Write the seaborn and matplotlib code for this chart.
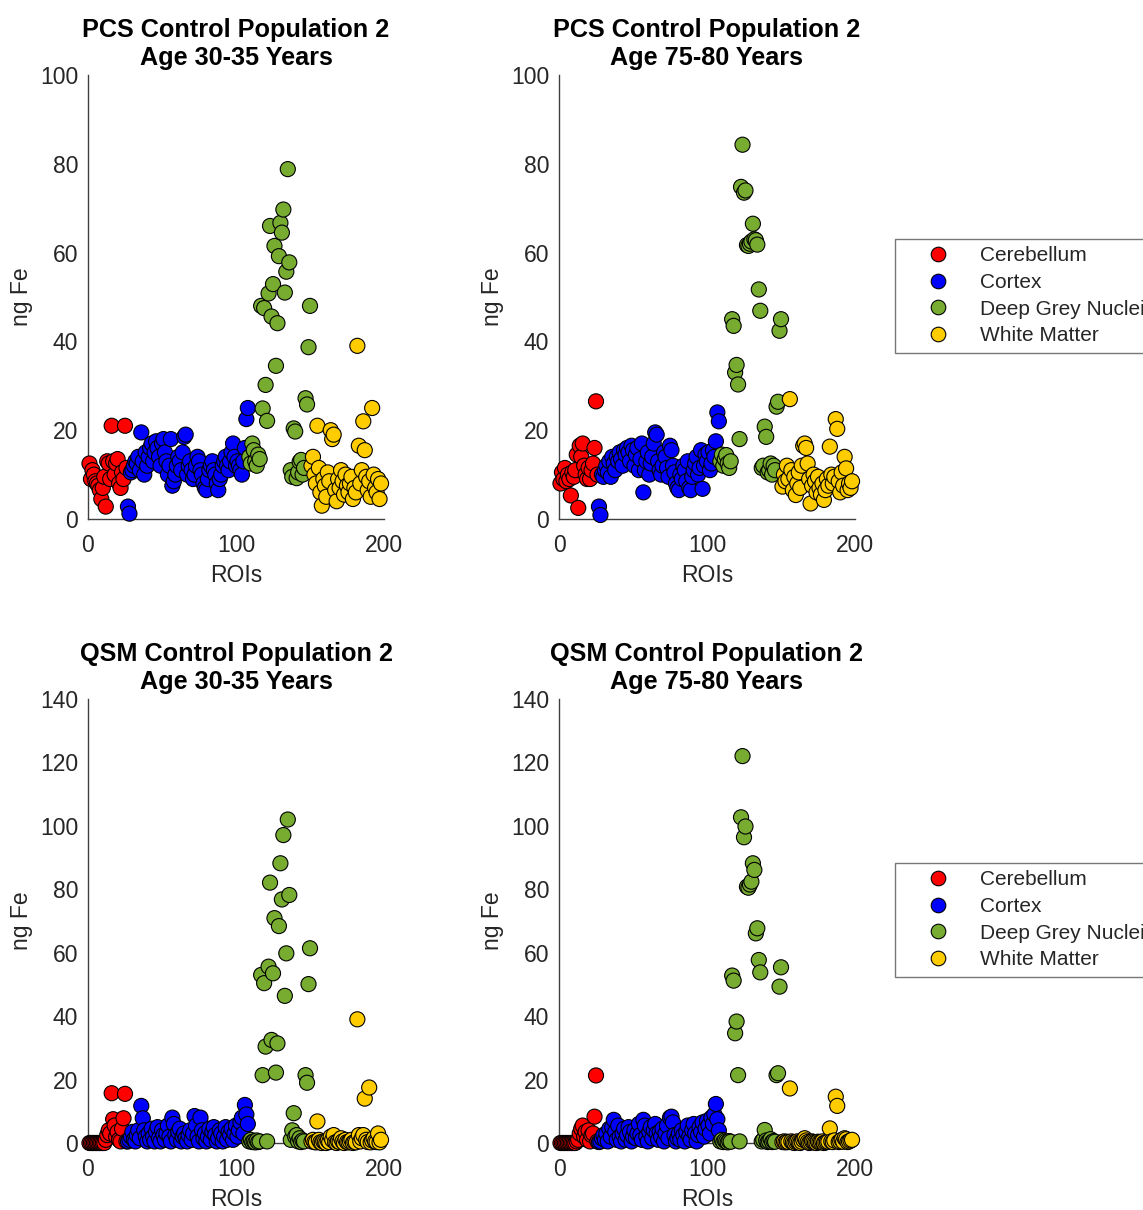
import matplotlib
matplotlib.use("Agg")
import matplotlib.pyplot as plt
from matplotlib.lines import Line2D
import pandas as pd
import seaborn as sns

# ---------------------------------------------------------------- data
regions = ["Cerebellum", "Cortex", "Deep Grey Nuclei", "White Matter"]
region_colors = ["#FF0000", "#0000FF", "#77AC30", "#FFCC00"]

# ROI index ranges of each region
cerebellum_roi = list(range(1, 27))
cortex_roi = list(range(27, 109))
deep_grey_roi = list(range(109, 151))
white_matter_roi = list(range(151, 199))

# PCS, age 30-35
pcs_young_cerebellum = [12.5, 9.0, 11.0, 10.0, 8.5, 8.0, 7.5, 6.5, 4.5, 7.0, 9.5, 2.8, 13.0,
                        12.5, 9.0, 21.0, 13.0, 10.0, 12.5, 13.5, 8.0, 7.0, 10.5, 9.0, 21.0, 11.5]
pcs_young_cortex = [2.8, 1.2, 10.5, 11.0, 12.0, 13.0, 12.5, 14.0, 11.0,
                    19.5,
                    13.0, 10.0, 15.0, 12.0, 14.0, 16.0, 17.0, 13.0, 15.0,
                    17.5, 16.0, 14.0, 12.0, 17.0, 18.0, 15.0, 13.0, 10.0, 12.0, 18.0,
                    7.5, 8.5, 10.0, 12.0, 14.0, 13.0, 11.0, 15.0, 18.5, 19.0,
                    10.0, 12.0, 13.0, 11.0, 9.0, 10.0, 12.0, 14.0, 13.0, 11.0, 10.0, 8.0, 7.0, 6.5,
                    9.0, 11.0, 12.0, 13.0, 11.0, 10.0, 8.0, 6.5, 9.0, 10.0, 12.0, 13.0, 14.0, 12.0, 11.0,
                    13.0, 15.0, 17.0, 14.0, 12.0, 13.0, 12.0, 11.0, 10.0, 13.0, 16.0, 22.5, 25.0]
pcs_young_deep_grey = [14.0, 12.5, 17.0, 15.5, 13.0, 12.0, 14.5, 13.5,
                       48.0, 24.9, 47.5, 30.2, 22.1, 50.8, 66.0, 45.6, 52.9, 61.5,
                       34.5, 44.1, 59.2, 66.7, 64.5, 69.7, 51.0, 55.7, 78.8, 57.8,
                       11.0, 9.5, 20.4, 19.7, 9.2, 10.5, 12.9, 13.3, 10.0, 11.5,
                       27.2, 25.8, 38.7, 48.0]
pcs_young_white_matter = [12.0, 14.0, 10.0, 8.0, 21.0, 11.5, 6.0, 3.0, 9.0, 7.5,
                          5.0, 10.5, 8.5, 20.0, 18.0, 19.0, 6.5, 4.0, 9.0, 7.0,
                          11.0, 8.5, 5.5, 10.0, 7.5, 6.0, 8.0, 9.5, 4.5, 7.0,
                          6.0, 39.0, 16.5, 8.0, 11.0, 22.0, 15.5, 9.5, 6.5, 8.5,
                          5.0, 25.0, 10.0, 7.0, 6.0, 9.0, 4.5, 8.0]

# PCS, age 75-80
pcs_old_cerebellum = [8.0, 10.5, 9.0, 11.5, 8.5, 10.0, 9.0, 5.3, 10.5, 9.5,
                      11.0, 14.5, 2.5, 16.5, 14.0, 17.0, 12.0, 10.0, 9.0, 11.5,
                      9.0, 11.0, 12.5, 16.0, 26.5, 10.0]
pcs_old_cortex = [2.8, 0.9, 10.0, 9.5, 11.0, 12.0, 10.5, 13.0, 9.5,
                  14.0,
                  12.5, 11.0, 14.0, 13.0, 15.0, 13.5, 12.0, 15.5, 14.5,
                  16.0, 15.0, 13.0, 16.5, 15.5, 12.0, 14.5, 16.0, 11.0, 13.5, 17.0,
                  6.0, 11.0, 13.0, 15.0, 10.0, 12.5, 14.0, 17.0, 19.5, 19.0,
                  13.0, 11.0, 10.0, 12.0, 15.0, 14.0, 11.5, 9.5, 16.5, 15.5, 12.0, 10.5, 8.0, 7.0,
                  6.5, 10.0, 9.0, 12.0, 11.0, 8.5, 13.0, 7.0, 6.5, 9.5, 11.0, 12.5, 14.0, 10.0, 11.5,
                  15.5, 6.8, 12.0, 14.5, 13.0, 15.0, 11.0, 12.5, 15.5, 14.0, 17.5, 24.0, 22.0]
pcs_old_deep_grey = [13.0, 14.5, 12.0, 13.5, 14.4, 12.5, 11.5, 13.0,
                     45.0, 43.5, 33.0, 34.7, 30.3, 18.0, 74.8, 84.3, 73.5, 74.0,
                     61.7, 61.5, 62.0, 62.5, 66.5, 63.0, 62.8, 61.8, 51.7, 46.9,
                     11.5, 12.0, 20.8, 18.5, 10.5, 11.0, 12.5, 10.0, 12.0, 11.0,
                     25.3, 26.4, 42.4, 45.0]
pcs_old_white_matter = [7.3, 10.0, 8.5, 12.0, 9.0, 27.0, 11.0, 6.5, 9.5, 5.4,
                        8.0, 10.5, 7.0, 12.0, 16.5, 17.0, 16.0, 12.5, 9.0, 3.5,
                        7.5, 10.0, 8.5, 6.0, 9.5, 7.0, 5.5, 8.0, 4.3, 6.5,
                        9.0, 7.5, 16.3, 10.0, 8.0, 9.5, 22.5, 20.3, 8.5, 6.0,
                        10.5, 7.5, 14.0, 11.4, 6.5, 8.0, 7.0, 8.5]

# QSM, age 30-35
qsm_young_cerebellum = [0, 0, 0, 0, 0, 0, 0, 0, 0, 0, 0,
                        1.0, 2.5, 4.0, 3.0, 15.7, 7.5, 5.5, 2.0, 3.5, 1.0, 0.5, 4.5, 7.8, 15.5, 0.5]
qsm_young_cortex = [0.5, 1.0, 2.0, 3.5, 1.0, 0.5, 2.5, 4.0, 1.5,
                    11.7,
                    7.8, 4.0, 2.0, 0.5, 3.0, 1.0, 4.5, 2.0, 0.5,
                    3.5, 5.0, 1.5, 0.5, 4.0, 2.5, 1.0, 3.0, 5.5, 2.0, 0.5,
                    8.0, 6.0, 2.5, 1.0, 3.5, 4.5, 0.5, 2.0, 3.0, 1.5,
                    0.5, 2.5, 4.0, 1.0, 3.0, 8.5, 5.5, 2.0, 0.5, 8.0, 4.0, 1.5, 3.0, 0.5,
                    2.0, 4.5, 1.0, 3.5, 5.0, 2.5, 0.5, 1.5, 4.0, 3.0, 0.5, 2.0, 5.0, 1.0, 3.5,
                    2.5, 4.5, 1.0, 3.0, 5.5, 2.0, 4.0, 6.5, 8.0, 3.0, 12.0, 9.0, 6.0]
qsm_young_deep_grey = [0.5, 1.0, 0.3, 0.5, 0.2, 0.8, 0.3, 0.5,
                       53.0, 21.4, 50.4, 30.4, 0.5, 55.6, 82.1, 32.5, 53.5, 70.9,
                       22.2, 31.4, 68.4, 88.2, 76.8, 97.1, 46.4, 59.8, 102.0, 78.2,
                       1.0, 4.0, 9.4, 2.0, 2.5, 0.5, 1.5, 0.3, 0.8, 0.5,
                       21.4, 19.0, 50.1, 61.4]
qsm_young_white_matter = [0.5, 1.0, 0.3, 0.2, 6.8, 1.0, 0.2, 0.0, 0.5, 0.3,
                          0.0, 0.8, 0.3, 2.0, 1.0, 2.5, 0.2, 0.0, 0.5, 0.3,
                          1.5, 0.5, 0.0, 1.0, 0.3, 0.2, 0.5, 1.0, 0.0, 0.3,
                          0.2, 39.0, 2.5, 0.5, 1.5, 2.5, 14.0, 1.0, 0.3, 17.5,
                          0.2, 0.8, 1.5, 0.5, 0.3, 3.0, 0.2, 1.0]

# QSM, age 75-80
qsm_old_cerebellum = [0, 0, 0, 0, 0, 0, 0, 0, 0, 0, 0,
                      0.5, 1.0, 3.0, 4.5, 5.5, 2.0, 3.5, 1.0, 4.0, 0.5, 2.5, 3.0, 8.3, 21.3, 0.5]
qsm_old_cortex = [0.3, 0.5, 1.5, 2.5, 1.0, 3.0, 0.5, 4.5, 2.0,
                  5.0,
                  7.3, 3.5, 1.0, 5.5, 2.0, 0.5, 3.0, 4.5, 1.0,
                  2.5, 5.0, 3.5, 0.5, 2.0, 4.0, 1.5, 3.0, 6.0, 2.5, 1.0,
                  7.3, 5.5, 2.0, 0.5, 3.5, 5.0, 1.5, 4.0, 6.0, 3.0,
                  1.0, 3.5, 2.0, 4.5, 0.5, 3.0, 5.5, 1.5, 8.0, 8.3, 6.5, 2.5, 0.5, 1.5,
                  3.0, 1.0, 4.0, 2.5, 0.5, 3.5, 5.5, 2.0, 1.0, 4.0, 6.0, 3.0, 0.5, 2.5, 5.0,
                  3.5, 6.5, 2.0, 4.5, 7.0, 5.5, 3.0, 8.0, 6.0, 9.0, 12.3, 7.5, 4.0]
qsm_old_deep_grey = [0.5, 1.0, 0.3, 0.8, 0.5, 0.2, 0.6, 0.4,
                     52.8, 51.2, 34.6, 38.3, 21.4, 0.5, 102.7, 122.0, 96.4, 99.8,
                     80.8, 80.5, 81.5, 82.4, 88.2, 86.1, 66.1, 67.7, 57.7, 53.8,
                     0.5, 1.0, 4.1, 0.8, 0.3, 0.5, 1.2, 0.3, 0.6, 0.4,
                     21.4, 22.0, 49.3, 55.4]
qsm_old_white_matter = [0.3, 0.5, 0.2, 0.4, 0.3, 17.2, 0.5, 0.2, 0.0, 0.3,
                        0.5, 0.2, 0.0, 0.4, 1.0, 1.5, 0.8, 0.3, 0.0, 0.2,
                        0.5, 0.3, 0.1, 0.0, 0.4, 0.2, 0.3, 0.5, 0.0, 0.2,
                        0.3, 0.4, 4.6, 0.5, 0.3, 0.8, 14.6, 11.7, 0.3, 0.5,
                        1.0, 0.4, 1.5, 1.2, 0.3, 0.5, 0.8, 1.0]

panel_titles = ["PCS Control Population 2\nAge 30-35 Years",
                "PCS Control Population 2\nAge 75-80 Years",
                "QSM Control Population 2\nAge 30-35 Years",
                "QSM Control Population 2\nAge 75-80 Years"]
x_label = "ROIs"
y_label = "ng Fe"
x_ticks = [0, 100, 200]
pcs_y_ticks = [0, 20, 40, 60, 80, 100]
qsm_y_ticks = [0, 20, 40, 60, 80, 100, 120, 140]

region_rois = [cerebellum_roi, cortex_roi, deep_grey_roi, white_matter_roi]
panel_values = [
    [pcs_young_cerebellum, pcs_young_cortex, pcs_young_deep_grey, pcs_young_white_matter],
    [pcs_old_cerebellum, pcs_old_cortex, pcs_old_deep_grey, pcs_old_white_matter],
    [qsm_young_cerebellum, qsm_young_cortex, qsm_young_deep_grey, qsm_young_white_matter],
    [qsm_old_cerebellum, qsm_old_cortex, qsm_old_deep_grey, qsm_old_white_matter],
]


def panel_frame(values):
    rows = []
    for name, rois, vals in zip(regions, region_rois, values):
        assert len(rois) == len(vals), (name, len(rois), len(vals))
        rows.append(pd.DataFrame({"ROI": rois, "ngFe": vals, "Region": name}))
    return pd.concat(rows, ignore_index=True)


# ---------------------------------------------------------------- style
sns.set_style("white")
text_color = "#262626"
axis_color = "#404040"
plt.rcParams["font.family"] = ["Liberation Sans", "DejaVu Sans"]
plt.rcParams["text.color"] = text_color
plt.rcParams["axes.labelcolor"] = text_color
plt.rcParams["xtick.color"] = axis_color
plt.rcParams["ytick.color"] = axis_color
plt.rcParams["xtick.labelcolor"] = text_color
plt.rcParams["ytick.labelcolor"] = text_color

W, H = 1143, 1210
fig = plt.figure(figsize=(W / 100, H / 100), dpi=100)
fig.patch.set_facecolor("white")

ax_w, ax_h = 296 / W, 444 / H
lefts = [88 / W, 559 / W]
bottoms = [1 - 519 / H, 1 - 1143 / H]

palette = dict(zip(regions, region_colors))
tick_fs = 16.5
title_fs = 18.2
legend_fs = 15

for i, values in enumerate(panel_values):
    row, col = divmod(i, 2)
    ax = fig.add_axes([lefts[col], bottoms[row], ax_w, ax_h])
    df = panel_frame(values)
    sns.scatterplot(data=df, x="ROI", y="ngFe", hue="Region", hue_order=regions,
                    palette=palette, s=118, edgecolor="black", linewidth=0.8,
                    alpha=1.0, legend=False, clip_on=False, zorder=3, ax=ax)
    ax.set_xlim(0, 200)
    ax.set_xticks(x_ticks)
    if row == 0:
        ax.set_ylim(0, 100)
        ax.set_yticks(pcs_y_ticks)
    else:
        ax.set_ylim(0, 140)
        ax.set_yticks(qsm_y_ticks)
    for side in ("top", "right"):
        ax.spines[side].set_visible(False)
    for side in ("left", "bottom"):
        ax.spines[side].set_color(axis_color)
        ax.spines[side].set_linewidth(1.0)
    ax.tick_params(direction="in", length=4, width=1.0, labelsize=tick_fs)
    ax.tick_params(axis="x", pad=11)
    ax.tick_params(axis="y", pad=7)
    ax.set_xlabel(x_label, fontsize=tick_fs, labelpad=5)
    ax.set_ylabel(y_label, fontsize=tick_fs, labelpad=5)
    ax.set_title(panel_titles[i], fontsize=title_fs, fontweight="bold",
                 linespacing=1.25, pad=7, color="black")
    ax.set_facecolor("white")

    if col == 1:
        handles = [Line2D([0], [0], marker="o", linestyle="none", markersize=10.5,
                          markerfacecolor=c, markeredgecolor="black", markeredgewidth=0.8)
                   for c in region_colors]
        top = 1 - (239 if row == 0 else 863) / H
        leg = ax.legend(handles, regions, loc="upper left",
                        bbox_to_anchor=(895 / W, top), bbox_transform=fig.transFigure,
                        fontsize=legend_fs, frameon=True, fancybox=False,
                        borderpad=0.35, handlelength=3.4, handletextpad=0.35,
                        labelspacing=0.37, borderaxespad=0)
        leg.get_frame().set_edgecolor("#555555")
        leg.get_frame().set_linewidth(1.0)

fig.savefig("out.png", dpi=100, facecolor="white")
